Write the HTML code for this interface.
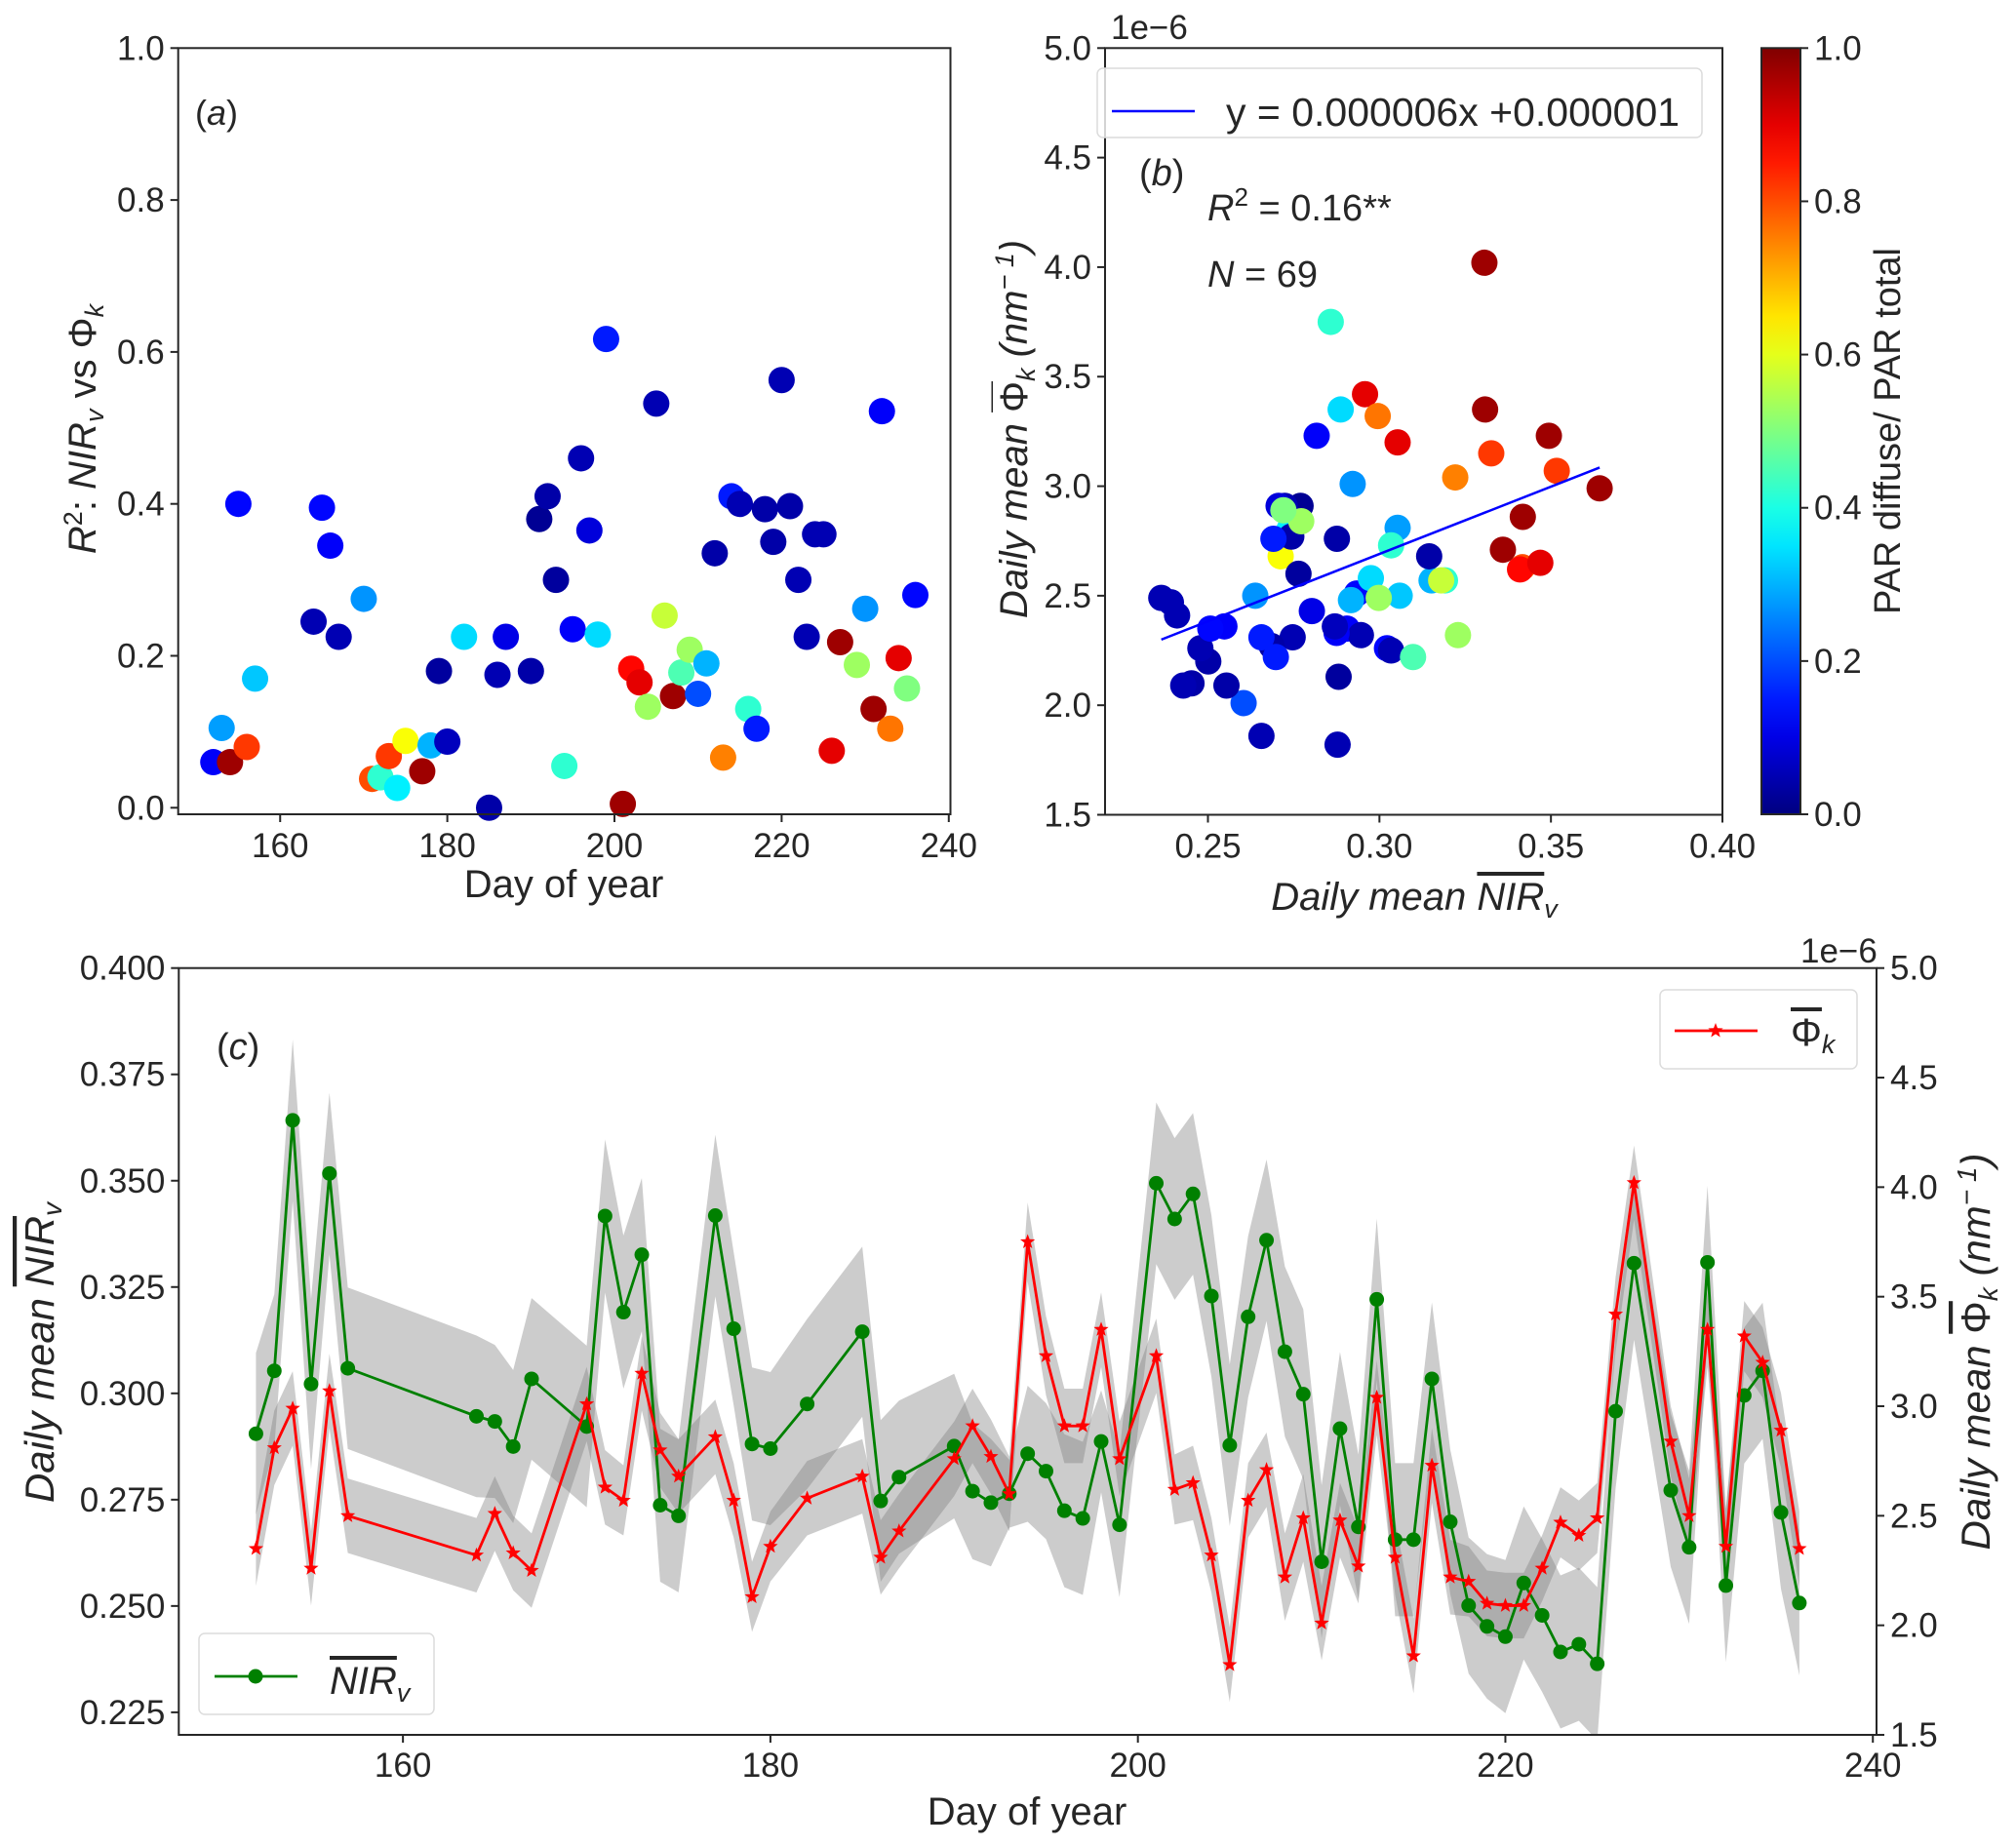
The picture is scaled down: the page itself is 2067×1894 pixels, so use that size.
<!DOCTYPE html>
<html><head><meta charset="utf-8"><style>
html,body{margin:0;padding:0;background:#fff;}
svg{display:block;font-family:"Liberation Sans","DejaVu Sans",sans-serif;}
text{fill:#262626;}
</style></head><body>
<svg id="fig" width="2067" height="1894" viewBox="0 0 2067 1894" xmlns="http://www.w3.org/2000/svg"></svg>
<script>
const days=[152,153,154,155,156,157,164,165,166,167,170,171,172,173,174,175,177,178,179,180,182,185,186,187,190,191,192,193,194,195,196,197,198,199,201,202,203,204,205,206,207,208,209,210,211,212,213,214,215,216,217,218,219,220,221,222,223,224,225,226,227,229,230,231,232,233,234,235,236];
const r2=[0.06,0.105,0.06,0.40,0.08,0.17,0.245,0.395,0.345,0.225,0.275,0.038,0.04,0.068,0.026,0.088,0.048,0.082,0.18,0.087,0.225,0.0,0.175,0.225,0.18,0.38,0.41,0.30,0.055,0.235,0.46,0.365,0.228,0.617,0.005,0.183,0.165,0.133,0.532,0.253,0.147,0.178,0.208,0.15,0.19,0.335,0.066,0.41,0.40,0.13,0.104,0.393,0.35,0.563,0.397,0.30,0.225,0.36,0.36,0.075,0.218,0.188,0.262,0.13,0.522,0.104,0.197,0.157,0.28];
const parFrac=[0.12,0.28,0.97,0.13,0.82,0.32,0.05,0.13,0.12,0.05,0.27,0.8,0.42,0.82,0.36,0.62,0.97,0.3,0.03,0.06,0.34,0.04,0.05,0.1,0.04,0.02,0.04,0.03,0.42,0.12,0.05,0.09,0.34,0.15,0.97,0.87,0.9,0.53,0.05,0.57,0.97,0.45,0.53,0.2,0.3,0.04,0.75,0.15,0.05,0.42,0.15,0.04,0.04,0.05,0.04,0.05,0.05,0.05,0.05,0.9,0.97,0.53,0.27,0.97,0.12,0.76,0.9,0.5,0.13];
const nirv=[0.2905,0.3053,0.3642,0.3022,0.3517,0.3059,0.2946,0.2934,0.2875,0.3034,0.2922,0.3417,0.3191,0.3326,0.2737,0.2712,0.3418,0.3152,0.2881,0.2870,0.2975,0.3145,0.2747,0.2803,0.2876,0.2770,0.2743,0.2764,0.2858,0.2817,0.2724,0.2706,0.2887,0.2691,0.3494,0.3410,0.3469,0.3229,0.2878,0.3180,0.3360,0.3098,0.2998,0.2604,0.2917,0.2686,0.3221,0.2656,0.2656,0.3034,0.2698,0.2501,0.2452,0.2428,0.2554,0.2478,0.2392,0.2410,0.2364,0.2958,0.3306,0.2772,0.2638,0.3308,0.2548,0.2995,0.3053,0.2720,0.2507];
const phik=[2.35,2.81,2.99,2.26,3.07,2.50,2.32,2.51,2.33,2.25,3.01,2.63,2.57,3.15,2.80,2.68,2.86,2.57,2.13,2.36,2.58,2.68,2.31,2.43,2.76,2.91,2.77,2.60,3.75,3.23,2.91,2.91,3.35,2.76,3.23,2.62,2.65,2.32,1.82,2.57,2.71,2.22,2.49,2.01,2.48,2.27,3.04,2.31,1.86,2.73,2.22,2.20,2.10,2.09,2.09,2.26,2.47,2.41,2.49,3.42,4.02,2.84,2.50,3.35,2.36,3.32,3.20,2.89,2.35];
const nirvStd=[0.019,0.018,0.019,0.02,0.019,0.019,0.019,0.018,0.018,0.019,0.019,0.018,0.018,0.018,0.018,0.018,0.019,0.018,0.018,0.018,0.02,0.02,0.019,0.018,0.017,0.016,0.015,0.008,0.016,0.016,0.018,0.018,0.012,0.017,0.019,0.019,0.019,0.019,0.019,0.019,0.019,0.02,0.02,0.018,0.018,0.017,0.019,0.018,0.018,0.018,0.017,0.016,0.017,0.018,0.018,0.018,0.018,0.018,0.018,0.018,0.018,0.018,0.018,0.018,0.018,0.016,0.016,0.018,0.017];
const phikStd=[0.17,0.17,0.17,0.17,0.17,0.17,0.17,0.17,0.17,0.17,0.17,0.17,0.16,0.17,0.17,0.17,0.17,0.17,0.16,0.16,0.17,0.17,0.17,0.17,0.17,0.17,0.17,0.17,0.18,0.18,0.17,0.17,0.17,0.17,0.17,0.16,0.17,0.17,0.17,0.17,0.17,0.2,0.2,0.17,0.17,0.17,0.17,0.17,0.17,0.17,0.17,0.16,0.15,0.15,0.15,0.15,0.16,0.16,0.16,0.17,0.17,0.16,0.17,0.17,0.17,0.16,0.16,0.17,0.17];
const dayTicks=[160,180,200,220,240];
const r2Ticks=[0.0,0.2,0.4,0.6,0.8,1.0];
const bxTicks=[0.25,0.30,0.35,0.40];
const byTicks=[1.5,2.0,2.5,3.0,3.5,4.0,4.5,5.0];
const cbTicks=[0.0,0.2,0.4,0.6,0.8,1.0];
const cLeftTicks=[0.225,0.250,0.275,0.300,0.325,0.350,0.375,0.400];
const cRightTicks=[1.5,2.0,2.5,3.0,3.5,4.0,4.5,5.0];

const NS="http://www.w3.org/2000/svg";
const svg=document.getElementById('fig');
function mk(tag,attrs,parent){const e=document.createElementNS(NS,tag);for(const k in attrs)e.setAttribute(k,attrs[k]);(parent||svg).appendChild(e);return e;}
function jet(x){const c=v=>Math.round(255*Math.max(0,Math.min(1,v)));return `rgb(${c(1.5-Math.abs(4*x-3))},${c(1.5-Math.abs(4*x-2))},${c(1.5-Math.abs(4*x-1))})`;}
function lin(d0,d1,p0,p1){return v=>p0+(v-d0)/(d1-d0)*(p1-p0);}
function fmt(v,n){return v.toFixed(n);}

// ---------- Panel A ----------
const A={l:182.7,r:974.5,t:49.3,b:835};
const ax=lin(147.8,240.2,A.l,A.r), ay=lin(0,1,828.3,49.3);
const gA=mk('g',{});


days.forEach((d,i)=>{const c=mk('circle',{cx:ax(d),cy:ay(r2[i]),r:13.5,fill:jet(parFrac[i])},gA);

});
const frA=mk('rect',{x:A.l,y:A.t,width:A.r-A.l,height:A.b-A.t,fill:'none',stroke:'#262626','stroke-width':2},gA);


dayTicks.forEach(t=>{mk('line',{x1:ax(t),x2:ax(t),y1:A.b,y2:A.b+8,stroke:'#262626','stroke-width':2},gA);
const tx=mk('text',{x:ax(t),y:A.b+44,'font-size':35,'text-anchor':'middle'},gA);tx.textContent=t;

});
r2Ticks.forEach(t=>{mk('line',{x1:A.l-8,x2:A.l,y1:ay(t),y2:ay(t),stroke:'#262626','stroke-width':2},gA);
const tx=mk('text',{x:A.l-14,y:ay(t)+12,'font-size':35,'text-anchor':'end'},gA);tx.textContent=fmt(t,1);

});
</script>
<script>
(function(){
const s=document.getElementById('fig');
s.insertAdjacentHTML('beforeend',`
<text x="578" y="920" font-size="40" text-anchor="middle">Day of year</text>
<text transform="translate(98,440) rotate(-90)" font-size="40" text-anchor="middle"><tspan font-style="italic">R</tspan><tspan font-size="27" dy="-14">2</tspan><tspan dy="14">: </tspan><tspan font-style="italic">NIR</tspan><tspan font-style="italic" font-size="27" dy="8">v</tspan><tspan dy="-8"> vs Φ</tspan><tspan font-style="italic" font-size="27" dy="8">k</tspan></text>
<text x="200" y="128" font-size="36">(<tspan font-style="italic">a</tspan>)</text>
`);
})();

// ---------- Panel B ----------
const B={l:1133,r:1766,t:49.3,b:835.5};
const bx=lin(0.22,0.40,B.l,B.r), by=lin(1.5,5.0,B.b,B.t);
const gB=mk('g',{});


days.forEach((d,i)=>{const c=mk('circle',{cx:bx(nirv[i]),cy:by(phik[i]),r:13.5,fill:jet(parFrac[i])},gB);

});
(function(){const n=nirv.length;let mx=0,my=0;for(let i=0;i<n;i++){mx+=nirv[i];my+=phik[i];}mx/=n;my/=n;
let sxy=0,sxx=0;for(let i=0;i<n;i++){sxy+=(nirv[i]-mx)*(phik[i]-my);sxx+=(nirv[i]-mx)**2;}
const k=sxy/sxx,b0=my-k*mx;const x0=Math.min(...nirv),x1=Math.max(...nirv);
const l=mk('line',{x1:bx(x0),y1:by(b0+k*x0),x2:bx(x1),y2:by(b0+k*x1),stroke:'#0000ff','stroke-width':2.5},gB);

})();
const frB=mk('rect',{x:B.l,y:B.t,width:B.r-B.l,height:B.b-B.t,fill:'none',stroke:'#262626','stroke-width':2},gB);


bxTicks.forEach(t=>{mk('line',{x1:bx(t),x2:bx(t),y1:B.b,y2:B.b+8,stroke:'#262626','stroke-width':2},gB);
const tx=mk('text',{x:bx(t),y:B.b+44,'font-size':35,'text-anchor':'middle'},gB);tx.textContent=fmt(t,2);

});
byTicks.forEach(t=>{mk('line',{x1:B.l-8,x2:B.l,y1:by(t),y2:by(t),stroke:'#262626','stroke-width':2},gB);
const tx=mk('text',{x:B.l-14,y:by(t)+12,'font-size':35,'text-anchor':'end'},gB);tx.textContent=fmt(t,1);

});
const CB={l:1806,r:1846,t:49.3,b:835};
const defs=mk('defs',{});
const grad=mk('linearGradient',{id:'jetg',x1:0,y1:1,x2:0,y2:0},defs);
for(let i=0;i<=20;i++){mk('stop',{offset:i/20,'stop-color':jet(i/20)},grad);}
const cbr=mk('rect',{x:CB.l,y:CB.t,width:CB.r-CB.l,height:CB.b-CB.t,fill:'url(#jetg)',stroke:'#262626','stroke-width':2});


const cby=lin(0,1,CB.b,CB.t);
cbTicks.forEach(t=>{mk('line',{x1:CB.r,x2:CB.r+8,y1:cby(t),y2:cby(t),stroke:'#262626','stroke-width':2});
const tx=mk('text',{x:CB.r+14,y:cby(t)+12,'font-size':35});tx.textContent=fmt(t,1);

});
svg.insertAdjacentHTML('beforeend',`
<text x="1139" y="40" font-size="35">1e−6</text>
<g><rect x="1125" y="70" width="620" height="71" rx="6" fill="#fff" fill-opacity="0.8" stroke="#dcdcdc" stroke-width="1.5"/>
<line x1="1140" y1="114" x2="1225" y2="114" stroke="#0000ff" stroke-width="2.5"/>
<text x="1257" y="129" font-size="41">y = 0.000006x +0.000001</text></g>
<text x="1168" y="190" font-size="38">(<tspan font-style="italic">b</tspan>)</text>
<text x="1238" y="226" font-size="38"><tspan font-style="italic">R</tspan><tspan font-size="26" dy="-15">2</tspan><tspan dy="15"> = 0.16**</tspan></text>
<text x="1238" y="294" font-size="38"><tspan font-style="italic">N</tspan> = 69</text>
<text x="1450" y="933" font-size="40" text-anchor="middle" font-style="italic">Daily mean <tspan text-decoration="overline">NIR</tspan><tspan font-size="27" dy="8">v</tspan></text>
<text transform="translate(1053,440) rotate(-90)" font-size="40" text-anchor="middle" font-style="italic">Daily mean <tspan text-decoration="overline" font-style="normal">Φ</tspan><tspan font-size="27" dy="8">k</tspan><tspan dy="-8"> (nm</tspan><tspan font-size="27" dy="-14">− 1</tspan><tspan dy="14">)</tspan></text>
<text transform="translate(1948,442) rotate(-90)" font-size="38" text-anchor="middle">PAR diffuse/ PAR total</text>
`);

// ---------- Panel C ----------
const C={l:183.3,r:1924,t:992.7,b:1779};
const cx=lin(147.8,240.2,C.l,C.r), cyL=lin(0.2197,0.400,C.b,C.t), cyR=lin(1.5,5.0,C.b,C.t);
const gC=mk('g',{});


const clip=mk('clipPath',{id:'clipc'},defs);mk('rect',{x:C.l,y:C.t,width:C.r-C.l,height:C.b-C.t},clip);
function band(vals,sd,fy){let up=days.map((d,i)=>`${cx(d)},${fy(vals[i]+sd[i])}`);let lo=days.map((d,i)=>`${cx(d)},${fy(vals[i]-sd[i])}`).reverse();return up.concat(lo).join(' ');}
const b1=mk('polygon',{points:band(nirv,nirvStd,cyL),fill:'#808080','fill-opacity':0.4,'clip-path':'url(#clipc)'},gC);


const b2=mk('polygon',{points:band(phik,phikStd,cyR),fill:'#808080','fill-opacity':0.4,'clip-path':'url(#clipc)'},gC);


const gl=mk('polyline',{points:days.map((d,i)=>`${cx(d)},${cyL(nirv[i])}`).join(' '),fill:'none',stroke:'#008000','stroke-width':2.8},gC);


days.forEach((d,i)=>{const c=mk('circle',{cx:cx(d),cy:cyL(nirv[i]),r:7.5,fill:'#008000'},gC);

});
function star(x,y,R){let p=[];for(let k=0;k<10;k++){const r=k%2?R*0.42:R;const a=-Math.PI/2+k*Math.PI/5;p.push(`${x+r*Math.cos(a)},${y+r*Math.sin(a)}`);}return p.join(' ');}
const rl=mk('polyline',{points:days.map((d,i)=>`${cx(d)},${cyR(phik[i])}`).join(' '),fill:'none',stroke:'#ff0000','stroke-width':2.8},gC);


days.forEach((d,i)=>{const s=mk('polygon',{points:star(cx(d),cyR(phik[i]),8),fill:'#ff0000'},gC);

});
const frC=mk('rect',{x:C.l,y:C.t,width:C.r-C.l,height:C.b-C.t,fill:'none',stroke:'#262626','stroke-width':2},gC);


dayTicks.forEach(t=>{mk('line',{x1:cx(t),x2:cx(t),y1:C.b,y2:C.b+8,stroke:'#262626','stroke-width':2},gC);
const tx=mk('text',{x:cx(t),y:C.b+43,'font-size':35,'text-anchor':'middle'},gC);tx.textContent=t;

});
cLeftTicks.forEach(t=>{mk('line',{x1:C.l-8,x2:C.l,y1:cyL(t),y2:cyL(t),stroke:'#262626','stroke-width':2},gC);
const tx=mk('text',{x:C.l-14,y:cyL(t)+12,'font-size':35,'text-anchor':'end'},gC);tx.textContent=fmt(t,3);

});
cRightTicks.forEach(t=>{mk('line',{x1:C.r,x2:C.r+8,y1:cyR(t),y2:cyR(t),stroke:'#262626','stroke-width':2},gC);
const tx=mk('text',{x:C.r+14,y:cyR(t)+12,'font-size':35},gC);tx.textContent=fmt(t,1);

});
svg.insertAdjacentHTML('beforeend',`
<text x="1846" y="987" font-size="35">1e−6</text>
<text x="222" y="1086" font-size="38">(<tspan font-style="italic">c</tspan>)</text>
<text x="1053" y="1871" font-size="40" text-anchor="middle">Day of year</text>
<text transform="translate(55,1387) rotate(-90)" font-size="42" text-anchor="middle" font-style="italic">Daily mean <tspan text-decoration="overline">NIR</tspan><tspan font-size="28" dy="8">v</tspan></text>
<text transform="translate(2040,1386) rotate(-90)" font-size="42" text-anchor="middle" font-style="italic">Daily mean <tspan text-decoration="overline" font-style="normal">Φ</tspan><tspan font-size="28" dy="8">k</tspan><tspan dy="-8"> (nm</tspan><tspan font-size="28" dy="-14">− 1</tspan><tspan dy="14">)</tspan></text>
<g><rect x="204" y="1675" width="241" height="83" rx="6" fill="#fff" fill-opacity="0.8" stroke="#dcdcdc" stroke-width="1.5"/>
<line x1="220" y1="1719" x2="305" y2="1719" stroke="#008000" stroke-width="2.8"/><circle cx="262" cy="1719" r="7.5" fill="#008000"/>
<text x="338" y="1737" font-size="40" font-style="italic"><tspan text-decoration="overline">NIR</tspan><tspan font-size="27" dy="8">v</tspan></text></g>
<g><rect x="1702" y="1015" width="202" height="81" rx="6" fill="#fff" fill-opacity="0.8" stroke="#dcdcdc" stroke-width="1.5"/>
<line x1="1717" y1="1057" x2="1802" y2="1057" stroke="#ff0000" stroke-width="2.8"/>
<polygon points="${star(1759,1057,8)}" fill="#ff0000"/>
<text x="1836" y="1072" font-size="40"><tspan text-decoration="overline">Φ</tspan><tspan font-style="italic" font-size="27" dy="8">k</tspan></text></g>
`);
</script>
</body></html>
